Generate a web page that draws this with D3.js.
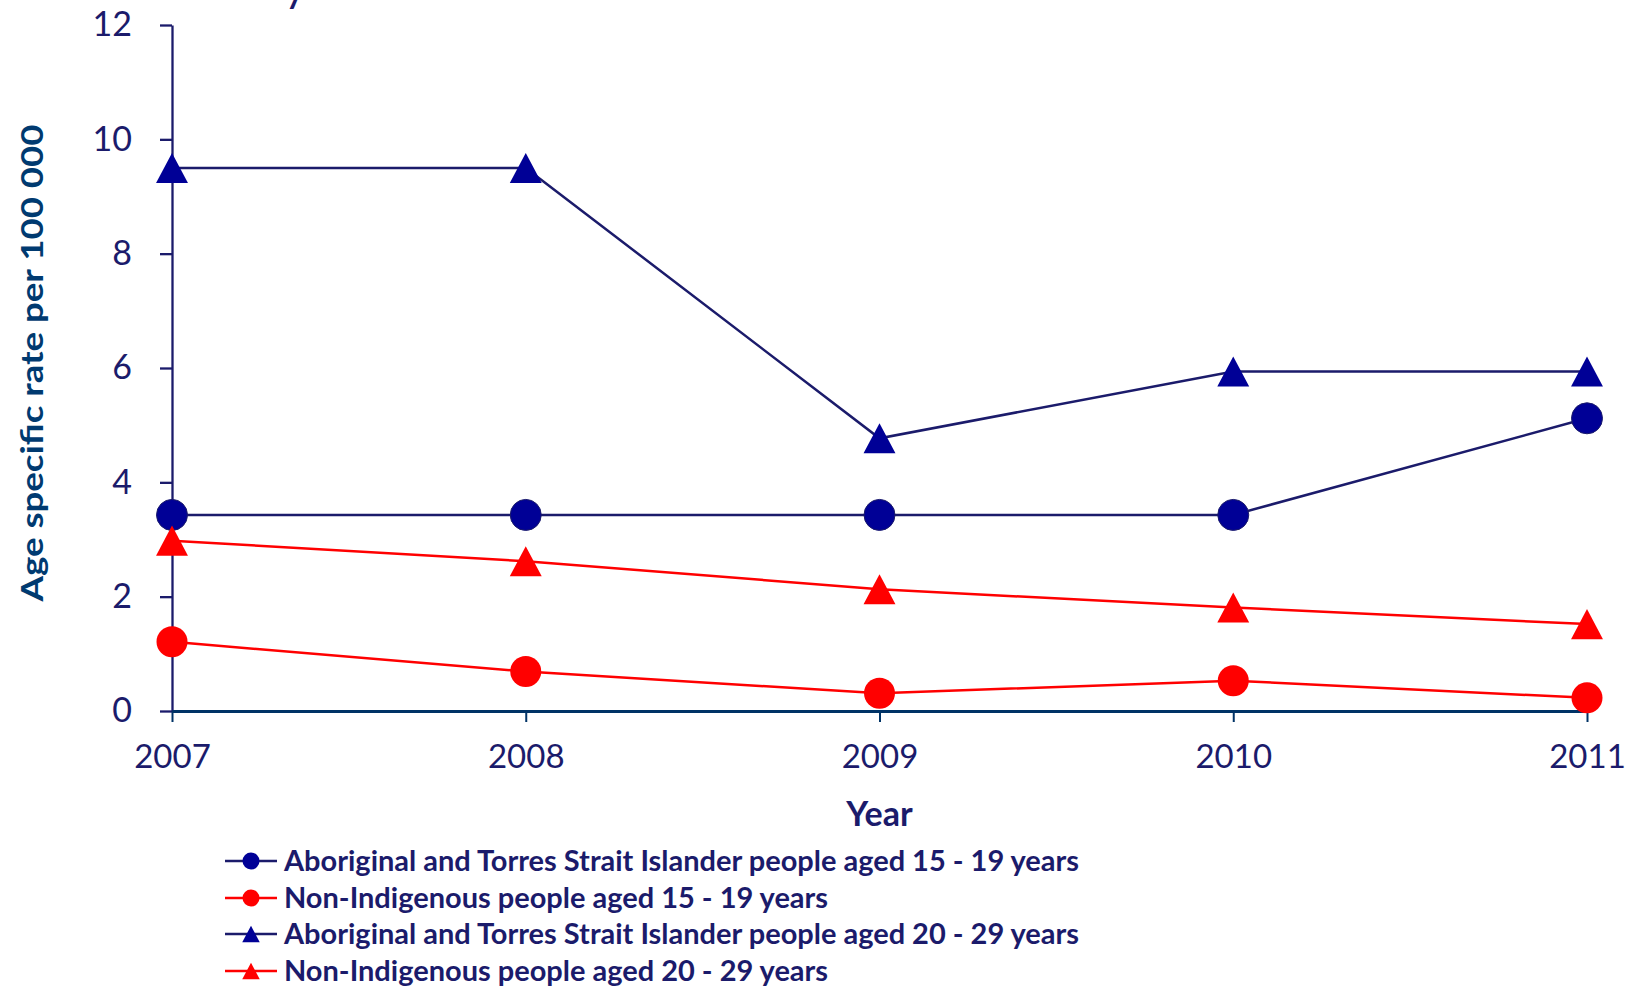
<!DOCTYPE html>
<html>
<head>
<meta charset="utf-8">
<script src="https://cdn.jsdelivr.net/npm/d3@7"></script>
<style>
  html, body { margin: 0; padding: 0; background: #ffffff; }
  svg { display: block; font-family: Lato, "Open Sans", sans-serif; }
</style>
</head>
<body>
<div id="chart"></div>
<script>
// colours
const colors = {
  navy: "#1b1b6b",      // lines, y axis, text
  navyFill: "#000096",  // aboriginal markers
  red: "#ff0000",
  xAxis: "#003366",
  yTitle: "#003a70"
};

// data
const years = [2007, 2008, 2009, 2010, 2011];
const yTicks = [0, 2, 4, 6, 8, 10, 12];
const seriesNames = [
  "Aboriginal and Torres Strait Islander people aged 15 - 19 years",
  "Non-Indigenous people aged 15 - 19 years",
  "Aboriginal and Torres Strait Islander people aged 20 - 29 years",
  "Non-Indigenous people aged 20 - 29 years"
];
const aboriginal1519 = [3.43, 3.43, 3.43, 3.43, 5.12];
const nonIndigenous1519 = [1.21, 0.69, 0.31, 0.53, 0.23];
const aboriginal2029 = [9.5, 9.5, 4.77, 5.94, 5.94];
const nonIndigenous2029 = [2.98, 2.62, 2.13, 1.81, 1.52];

const series = [
  { name: seriesNames[0], values: aboriginal1519, line: colors.navy, fill: colors.navyFill, shape: "circle" },
  { name: seriesNames[1], values: nonIndigenous1519, line: colors.red, fill: colors.red, shape: "circle" },
  { name: seriesNames[2], values: aboriginal2029, line: colors.navy, fill: colors.navyFill, shape: "triangle" },
  { name: seriesNames[3], values: nonIndigenous2029, line: colors.red, fill: colors.red, shape: "triangle" }
];

// dimensions
const W = 1635, H = 987;
const plot = { left: 172, right: 1587, top: 25, bottom: 711 };

const svg = d3.select("#chart")
  .append("svg")
  .attr("width", W)
  .attr("height", H);

// scales
const x = d3.scaleLinear()
  .domain([2007, 2011])
  .range([plot.left, plot.right]);

const y = d3.scaleLinear()
  .domain([0, 12])
  .range([plot.bottom, plot.top]);

// cut-off title fragment at the very top
svg.append("text")
  .attr("x", 284)
  .attr("y", 1)
  .attr("fill", colors.navy)
  .style("font-size", "44px")
  .text("y");

// y axis
const yAxis = svg.append("g")
  .attr("transform", `translate(${plot.left},0)`)
  .call(d3.axisLeft(y).tickValues(yTicks).tickSize(12).tickSizeOuter(0).tickPadding(28));
yAxis.select(".domain").attr("stroke", colors.navy).attr("stroke-width", 2.3);
yAxis.selectAll(".tick line").attr("stroke", colors.navy).attr("stroke-width", 2.3);
yAxis.selectAll(".tick text")
  .attr("fill", colors.navy)
  .style("font-size", "34px")
  .style("font-family", "Lato, sans-serif");

// x axis
const xAxis = svg.append("g")
  .attr("transform", `translate(0,${plot.bottom})`)
  .call(d3.axisBottom(x).tickValues(years).tickFormat(d3.format("d"))
    .tickSize(11).tickSizeOuter(0).tickPadding(23));
xAxis.select(".domain").attr("stroke", colors.xAxis).attr("stroke-width", 3);
xAxis.selectAll(".tick line").attr("stroke", colors.xAxis).attr("stroke-width", 2);
xAxis.selectAll(".tick text")
  .attr("fill", colors.navy)
  .style("font-size", "33px")
  .style("font-family", "Lato, sans-serif");

// axis titles
svg.append("text")
  .attr("x", (plot.left + plot.right) / 2)
  .attr("y", 826)
  .attr("text-anchor", "middle")
  .attr("fill", colors.navy)
  .style("font-size", "34px")
  .style("font-weight", "bold")
  .text("Year");

svg.append("text")
  .attr("transform", "translate(43,363) rotate(-90)")
  .attr("text-anchor", "middle")
  .attr("fill", colors.yTitle)
  .attr("textLength", 477)
  .attr("lengthAdjust", "spacingAndGlyphs")
  .style("font-size", "31px")
  .style("font-weight", "bold")
  .text("Age specific rate per 100 000");

// marker shapes
function markerPath(shape, s) {
  if (shape === "circle") {
    return `M${s},0A${s},${s} 0 1,1 ${-s},0A${s},${s} 0 1,1 ${s},0Z`;
  }
  const h = s * 0.97;
  return `M0,${-h}L${s * 1.03},${h}L${-s * 1.03},${h}Z`;
}

const line = d3.line()
  .x((d, i) => x(years[i]))
  .y(d => y(d));

// lines and markers
series.forEach(s => {
  svg.append("path")
    .datum(s.values)
    .attr("d", line)
    .attr("fill", "none")
    .attr("stroke", s.line)
    .attr("stroke-width", 2.5);

  svg.selectAll(null)
    .data(s.values)
    .enter()
    .append("path")
    .attr("transform", (d, i) => `translate(${x(years[i])},${y(d)})`)
    .attr("d", markerPath(s.shape, s.shape === "circle" ? 15.5 : 15.5))
    .attr("fill", s.fill)
    .attr("stroke", s.shape === "circle" && s.fill !== colors.red ? colors.navy : "none")
    .attr("stroke-width", 1);
});

// legend
const legend = svg.append("g");
const rowY = [861, 898, 934, 971];

series.forEach((s, i) => {
  const g = legend.append("g").attr("transform", `translate(0,${rowY[i]})`);
  g.append("line")
    .attr("x1", 225).attr("x2", 277)
    .attr("y1", 0).attr("y2", 0)
    .attr("stroke", s.line)
    .attr("stroke-width", 2.5);
  g.append("path")
    .attr("transform", "translate(251,0)")
    .attr("d", markerPath(s.shape, 8.5))
    .attr("fill", s.fill);
  g.append("text")
    .attr("class", "legend-text")
    .attr("x", 284)
    .attr("y", 0)
    .attr("dy", "0.36em")
    .attr("fill", colors.navy)
    .style("font-size", "29px")
    .style("font-weight", "bold")
    .text(s.name);
});

// squeeze legend text to the condensed face of the original
const texts = legend.selectAll(".legend-text");
const natural = texts.nodes()[0].getComputedTextLength();
const squeeze = 795 / natural;
texts.each(function () {
  const len = this.getComputedTextLength();
  d3.select(this)
    .attr("textLength", len * squeeze)
    .attr("lengthAdjust", "spacingAndGlyphs");
});
</script>
</body>
</html>
